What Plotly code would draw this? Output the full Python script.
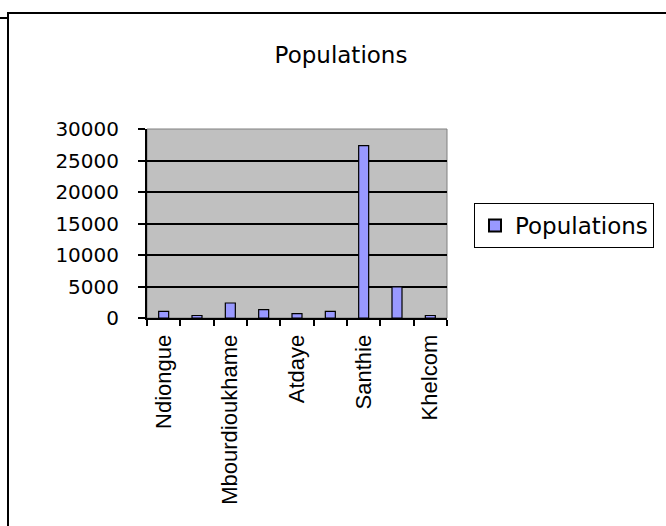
import plotly.graph_objects as go

# Data (9 localities; Excel only printed every other label)
positions = [0, 1, 2, 3, 4, 5, 6, 7, 8]
populations = [1050, 400, 2380, 1320, 690, 1060, 27350, 4950, 400]
label_positions = [0, 2, 4, 6, 8]
label_texts = ["Ndiongue", "Mbourdioukhame", "Atdaye", "Santhie", "Khelcom"]
y_ticks = [0, 5000, 10000, 15000, 20000, 25000, 30000]
y_tick_texts = ["0", "5000", "10000", "15000", "20000", "25000", "30000"]

W, H = 666, 526
L, R, T, B = 147, 219, 129, 208
pw = W - L - R
ph = H - T - B

def px_x(px):
    return (px - L) / pw

def px_y(py):
    return (H - B - py) / ph

fig = go.Figure()
fig.add_trace(go.Bar(
    x=positions, y=populations, name="Populations",
    marker=dict(color="#9999FF", line=dict(color="black", width=1.2)),
    showlegend=True,
))

fig.update_layout(
    width=W, height=H,
    margin=dict(l=L, r=R, t=T, b=B, pad=0),
    paper_bgcolor="white",
    plot_bgcolor="#C0C0C0",
    bargap=0.7,
    font=dict(family="DejaVu Sans", size=21, color="black"),
    title=dict(text="Populations", x=341 / W, xanchor="center",
               y=1 - 55 / H, yanchor="middle",
               font=dict(family="DejaVu Sans", size=23, color="black")),
    showlegend=True,
    legend=dict(x=px_x(474), xanchor="left", y=px_y(203), yanchor="top",
                bordercolor="black", borderwidth=1, bgcolor="white",
                font=dict(family="DejaVu Sans", size=23, color="black"),
                itemsizing="constant"),
    xaxis=dict(
        range=[-0.5, 8.5],
        tickmode="array", tickvals=label_positions, ticktext=label_texts,
        tickangle=-90, ticks="",
        tickfont=dict(family="Liberation Sans", size=22, color="black"),
        ticklabelstandoff=6,
        showgrid=False, zeroline=False,
        showline=True, linecolor="black", linewidth=2,
        minor=dict(ticks="outside", tick0=-0.5, dtick=1, ticklen=6,
                   tickcolor="black", tickwidth=2, showgrid=False),
        fixedrange=True,
    ),
    yaxis=dict(
        range=[0, 30000],
        tickmode="array", tickvals=y_ticks, ticktext=y_tick_texts,
        ticks="outside", ticklen=7, tickcolor="black", tickwidth=2,
        ticklabelstandoff=15,
        tickfont=dict(family="DejaVu Sans", size=20, color="black"),
        showgrid=True, gridcolor="black", gridwidth=1.5,
        zeroline=False,
        showline=True, linecolor="black", linewidth=2,
        fixedrange=True,
    ),
    shapes=[
        # gray plot-area border
        dict(type="rect", xref="paper", yref="paper", x0=0, x1=1, y0=0, y1=1,
             line=dict(color="#808080", width=1), layer="below"),
        # outer chart frame
        dict(type="rect", xref="paper", yref="paper",
             x0=px_x(8), x1=px_x(700), y0=px_y(560), y1=px_y(13),
             line=dict(color="black", width=2)),
        dict(type="line", xref="paper", yref="paper",
             x0=px_x(0), x1=px_x(8), y0=px_y(18), y1=px_y(18),
             line=dict(color="black", width=2)),
    ],
)

fig.write_html("out.html", config={"displayModeBar": False},
               post_script="document.body.style.margin='0';document.body.style.padding='0';")
